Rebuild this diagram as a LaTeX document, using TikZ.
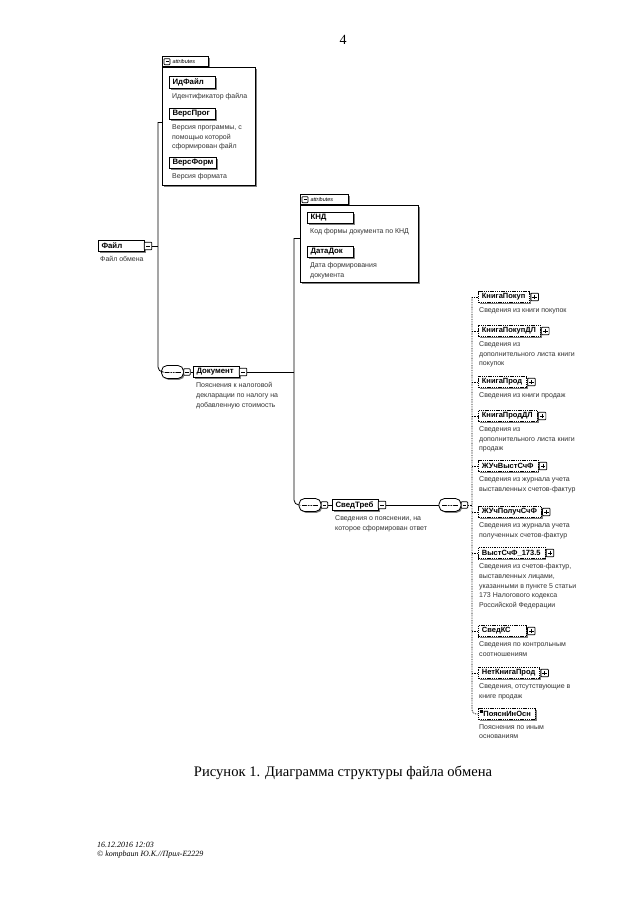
\documentclass[tikz,border=0pt]{standalone}
\usepackage{fontspec}
\setmainfont{Liberation Serif}
\newfontfamily\arialf{Liberation Sans}
\usetikzlibrary{shadows,calc}
\newdimen\lbxmin \lbxmin=40pt
\newcommand\lbx[1]{\setbox0=\hbox{#1}\ifdim\wd0<\lbxmin\hbox to \lbxmin{\box0\hfil}\else\box0\fi}
\newcommand\optlabel[1]{\hbox{\kern3.5pt #1\kern4.5pt}}
\begin{document}
\begin{tikzpicture}[x=1pt,y=-1pt,
 shd/.style={drop shadow={shadow xshift=1.3pt,shadow yshift=-1.3pt,fill=black!50,opacity=1}},
 elem/.style={draw,line width=1pt,fill=white,font=\arialf\bfseries\fontsize{7.8}{9}\selectfont,inner xsep=3pt,inner ysep=0pt,minimum height=11.5pt,anchor=west,shd},
 opt/.style={elem,line width=0.8pt,dash pattern=on 1.3pt off 0.9pt,inner xsep=0pt,font=\arialf\bfseries\fontsize{7.5}{9}\selectfont},
 desc/.style={anchor=north west,font=\arialf\fontsize{7}{9.8}\selectfont,text=black!80,inner sep=0pt,align=left},
 ico/.style={draw,fill=white,line width=0.7pt,minimum size=7.5pt,inner sep=0pt,rounded corners=0.7pt},
 minus/.style={ico,path picture={\draw[line width=0.7pt] ([xshift=1.5pt]path picture bounding box.west) -- ([xshift=-1.5pt]path picture bounding box.east);}},
 plus/.style={ico,path picture={\draw[line width=0.7pt] ([xshift=1.5pt]path picture bounding box.west) -- ([xshift=-1.5pt]path picture bounding box.east) ([yshift=-1.5pt]path picture bounding box.north) -- ([yshift=1.5pt]path picture bounding box.south);}},
 seq/.style={draw,line width=0.8pt,fill=white,minimum width=22pt,minimum height=13pt,rounded corners=5.5pt,inner sep=0pt,shd,
   path picture={\draw[line width=0.6pt] ([xshift=3pt]path picture bounding box.west) -- ([xshift=-3pt]path picture bounding box.east);
     \foreach \dx in {-2.5,0,2.5} \fill ([xshift=\dx pt]path picture bounding box.center) circle (0.8pt);}},
 attbox/.style={draw,line width=0.7pt,fill=white,anchor=north west,inner sep=0pt,shd},
 tabbox/.style={draw,line width=0.7pt,fill=white,anchor=south west,inner sep=0pt,minimum height=10pt,shd},
 tabtext/.style={anchor=west,font=\arialf\itshape\fontsize{5.5}{6}\selectfont,inner sep=0pt},
 conn/.style={line width=0.8pt},
 dconn/.style={line width=0.7pt,dash pattern=on 0.8pt off 0.9pt},
]
\useasboundingbox[fill=white] (0,0) rectangle (640,905);

% page number
\node[font=\fontsize{14}{16}\selectfont] (pg) at (343,40) {4};

% ---------- attributes of Файл
\node[tabbox,minimum width=46pt] (tabA) at (162,67) {};
\node[attbox,minimum width=93pt,minimum height=118pt] (attrA) at (162,67) {};
\node[minus,minimum size=6pt] (tabAi) at ($(tabA.west)+(5,0)$) {};
\node[tabtext] (tabAt) at ($(tabAi.east)+(2,0)$) {attributes};
\node[elem] (idf) at (169,82.5) {\lbx{ИдФайл}};
\node[desc] (idfd) at ($(idf.south west)+(3,4)$) {Идентификатор файла};
\node[elem] (vp) at (169,114) {\lbx{ВерсПрог}};
\node[desc] (vpd) at ($(vp.south west)+(3,4)$) {Версия программы, с\\помощью которой\\сформирован файл};
\node[elem] (vf) at (169,163) {\lbx{ВерсФорм}};
\node[desc] (vfd) at ($(vf.south west)+(3,4)$) {Версия формата};

% ---------- Файл
\node[elem] (fajl) at (98,246) {\lbx{Файл}};
\node[minus] (fajli) at ($(fajl.east)+(3,0)$) {};
\node[desc] (fajld) at ($(fajl.south west)+(2,4)$) {Файл обмена};

% ---------- Документ
\node[seq] (seqA) at (172.5,372) {};
\node[minus,minimum size=6.5pt] (seqAi) at ($(seqA.east)+(3,0)$) {};
\node[elem] (dok) at (193,372) {\lbx{Документ}};
\node[minus] (doki) at ($(dok.east)+(3,0)$) {};
\node[desc] (dokd) at ($(dok.south west)+(3,4)$) {Пояснения к налоговой\\декларации по налогу на\\добавленную стоимость};

\coordinate (v1t) at (158,122);
\draw[conn] (attrA.west |- v1t) -- (v1t);
\draw[conn,rounded corners=5pt] (v1t) -- (v1t |- seqA.west) -- (seqA.west);
\draw[conn] (fajli.east) -- (fajli.east -| v1t);
\draw[conn] (seqAi.east) -- (dok.west);

% ---------- attributes of Документ
\node[tabbox,minimum width=48pt] (tabB) at (300,205) {};
\node[attbox,minimum width=118pt,minimum height=77pt] (attrB) at (300,205) {};
\node[minus,minimum size=6pt] (tabBi) at ($(tabB.west)+(5,0)$) {};
\node[tabtext] (tabBt) at ($(tabBi.east)+(2,0)$) {attributes};
\node[elem] (knd) at (307,218) {\lbx{КНД}};
\node[desc] (kndd) at ($(knd.south west)+(3,4)$) {Код формы документа по КНД};
\node[elem] (dd) at (307,252) {\lbx{ДатаДок}};
\node[desc] (ddd) at ($(dd.south west)+(3,4)$) {Дата формирования\\документа};

% ---------- СведТреб
\node[seq] (seqB) at (310,505) {};
\node[minus,minimum size=6.5pt] (seqBi) at ($(seqB.east)+(3,0)$) {};
\node[elem] (svt) at (332,505) {\lbx{СведТреб}};
\node[minus] (svti) at ($(svt.east)+(3,0)$) {};
\node[desc] (svtd) at ($(svt.south west)+(3,4)$) {Сведения о пояснении, на\\которое сформирован ответ};
\node[seq] (seqC) at (450,505) {};
\node[minus,minimum size=6.5pt] (seqCi) at ($(seqC.east)+(3,0)$) {};

\coordinate (v2t) at (294,238);
\draw[conn] (attrB.west |- v2t) -- (v2t);
\draw[conn,rounded corners=5pt] (v2t) -- (v2t |- seqB.west) -- (seqB.west);
\draw[conn] (doki.east) -- (doki.east -| v2t);
\draw[conn] (seqBi.east) -- (svt.west);
\draw[conn] (svti.east) -- (seqC.west);

% ---------- children of СведТреб
\node[opt] (kp) at (478,297) {\optlabel{КнигаПокуп}};
\node[plus] (kpi) at ($(kp.east)+(4.5,0)$) {};
\node[desc] (kpd) at ($(kp.south west)+(1,4)$) {Сведения из книги покупок};

\node[opt] (kpdl) at (478,331) {\optlabel{КнигаПокупДЛ}};
\node[plus] (kpdli) at ($(kpdl.east)+(4.5,0)$) {};
\node[desc] (kpdld) at ($(kpdl.south west)+(1,4)$) {Сведения из\\дополнительного листа книги\\покупок};

\node[opt] (kpr) at (478,382) {\optlabel{КнигаПрод}};
\node[plus] (kpri) at ($(kpr.east)+(4.5,0)$) {};
\node[desc] (kprd) at ($(kpr.south west)+(1,4)$) {Сведения из книги продаж};

\node[opt] (kprdl) at (478,416) {\optlabel{КнигаПродДЛ}};
\node[plus] (kprdli) at ($(kprdl.east)+(4.5,0)$) {};
\node[desc] (kprdld) at ($(kprdl.south west)+(1,4)$) {Сведения из\\дополнительного листа книги\\продаж};

\node[opt] (jv) at (478,466) {\optlabel{ЖУчВыстСчФ}};
\node[plus] (jvi) at ($(jv.east)+(4.5,0)$) {};
\node[desc] (jvd) at ($(jv.south west)+(1,4)$) {Сведения из журнала учета\\выставленных счетов-фактур};

\node[opt] (jp) at (478,512) {\optlabel{ЖУчПолучСчФ}};
\node[plus] (jpi) at ($(jp.east)+(4.5,0)$) {};
\node[desc] (jpd) at ($(jp.south west)+(1,4)$) {Сведения из журнала учета\\полученных счетов-фактур};

\node[opt] (vs) at (478,553) {\optlabel{ВыстСчФ\_173.5}};
\node[plus] (vsi) at ($(vs.east)+(4.5,0)$) {};
\node[desc] (vsd) at ($(vs.south west)+(1,4)$) {Сведения из счетов-фактур,\\выставленных лицами,\\указанными в пункте 5 статьи\\173 Налогового кодекса\\Российской Федерации};

\node[opt] (skc) at (478,631) {\optlabel{\lbx{СведКС}}};
\node[plus] (skci) at ($(skc.east)+(4.5,0)$) {};
\node[desc] (skcd) at ($(skc.south west)+(1,4)$) {Сведения по контрольным\\соотношениям};

\node[opt] (nkp) at (478,673) {\optlabel{НетКнигаПрод}};
\node[plus] (nkpi) at ($(nkp.east)+(4.5,0)$) {};
\node[desc] (nkpd) at ($(nkp.south west)+(1,4)$) {Сведения, отсутствующие в\\книге продаж};

\node[opt] (pio) at (478,714) {\optlabel{\kern1.5pt ПояснИнОсн}};
\draw[line width=0.4pt] ($(pio.north west)+(1.5,2)$) -- ++(3,0) ($(pio.north west)+(1.5,3.3)$) -- ++(3,0) ($(pio.north west)+(1.5,4.6)$) -- ++(3,0);
\node[desc] (piod) at ($(pio.south west)+(1,4)$) {Пояснения по иным\\основаниям};

\coordinate (v3t) at (472,297);
\draw[dconn] (seqCi.east) -- (seqCi.east -| v3t);
\draw[dconn] (kp.west) -- (v3t);
\draw[dconn,rounded corners=4pt] (v3t) -- (v3t |- pio.west) -- (pio.west);
\foreach \n in {kpdl,kpr,kprdl,jv,jp,vs,skc,nkp}
  \draw[dconn] (v3t |- \n.west) -- (\n.west);

% ---------- caption and footer
\node[font=\fontsize{14.6}{18}\selectfont] (cap) at (343,773) {Рисунок 1. Диаграмма структуры файла обмена};
\node[anchor=west,font=\itshape\fontsize{8}{9}\selectfont,inner sep=0pt] (f1) at (97,845) {16.12.2016 12:03};
\node[anchor=west,font=\itshape\fontsize{8}{9}\selectfont,inner sep=0pt] (f2) at (97,855) {\textcopyright\ kompbaun Ю.К.//Прил-E2229};
\end{tikzpicture}
\end{document}
